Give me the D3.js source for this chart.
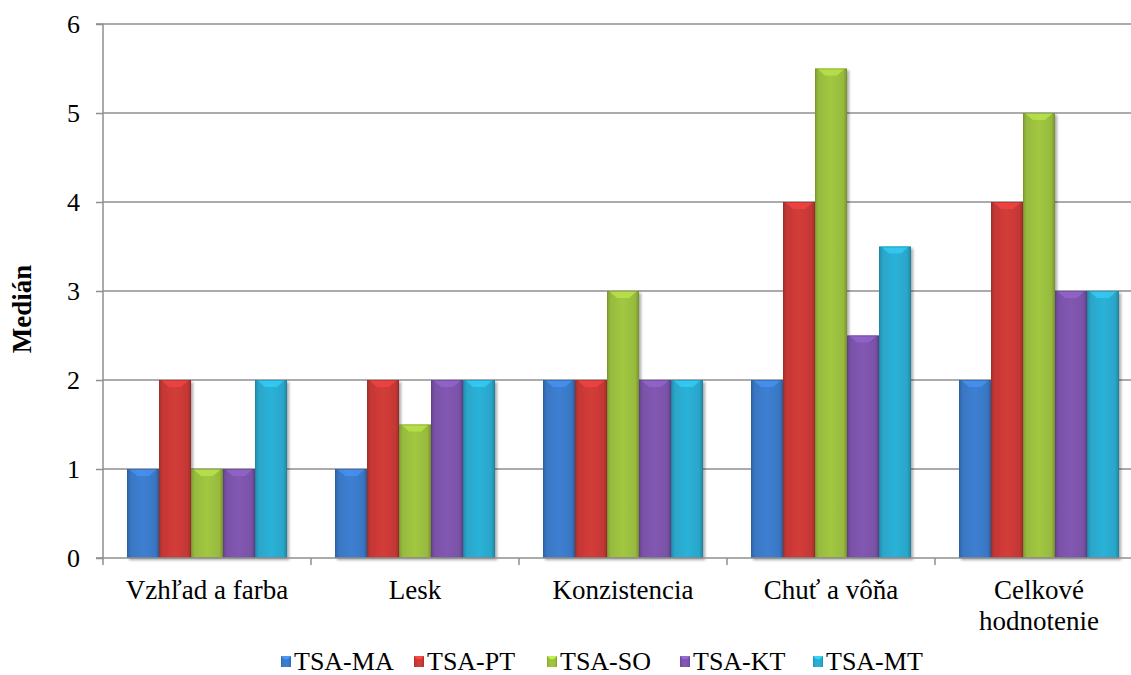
<!DOCTYPE html>
<html>
<head>
<meta charset="utf-8">
<script src="https://cdn.jsdelivr.net/npm/d3@7"></script>
<style>
  html, body { margin: 0; padding: 0; background: #fff; overflow: hidden; }
  svg { display: block; }
</style>
</head>
<body>
<svg id="chart" width="1131" height="675"></svg>
<script>
// Hodnotené znaky (kategórie osi X)
const categories = ["Vzhľad a farba", "Lesk", "Konzistencia", "Chuť a vôňa", "Celkové hodnotenie"];
// Vzorky (série)
const seriesNames = ["TSA-MA", "TSA-PT", "TSA-SO", "TSA-KT", "TSA-MT"];
// Mediány pre každú vzorku v poradí kategórií
const valMA = [1, 1, 2, 2, 2];
const valPT = [2, 2, 2, 4, 4];
const valSO = [1, 1.5, 3, 5.5, 5];
const valKT = [1, 2, 2, 2.5, 3];
const valMT = [2, 2, 2, 3.5, 3];
const yTicks = [0, 1, 2, 3, 4, 5, 6];
const seriesColors = ["#3b7bcb", "#cc3a37", "#9cc13f", "#7d55ad", "#2aacd0"];

const seriesValues = [valMA, valPT, valSO, valKT, valMT];
const FONT = '"Liberation Serif"';

const svg = d3.select("#chart");
const plotLeft = 103, plotTop = 24, plotBottom = 558;
const plotRight = plotLeft + 208 * categories.length;

const x0 = d3.scaleBand().domain(categories).range([plotLeft, plotRight]).paddingInner(0).paddingOuter(0);
const x1 = d3.scaleBand().domain(seriesNames).range([24, 208 - 24]).padding(0);
const y = d3.scaleLinear().domain([0, 6]).range([plotBottom, plotTop]);

const defs = svg.append("defs");
const shadow = defs.append("filter").attr("id", "shadow")
  .attr("x", "-20%").attr("y", "-5%").attr("width", "150%").attr("height", "115%");
shadow.append("feGaussianBlur").attr("in", "SourceAlpha").attr("stdDeviation", 1.6);
shadow.append("feOffset").attr("dx", 1.5).attr("dy", 1.5).attr("result", "off");
shadow.append("feComponentTransfer").append("feFuncA").attr("type", "linear").attr("slope", 0.35);
const merge = shadow.append("feMerge");
merge.append("feMergeNode");
merge.append("feMergeNode").attr("in", "SourceGraphic");

seriesColors.forEach((c, i) => {
  const base = d3.color(c);
  const g = defs.append("linearGradient").attr("id", "grad" + i)
    .attr("x1", "0").attr("x2", "1").attr("y1", "0").attr("y2", "0");
  g.append("stop").attr("offset", "0").attr("stop-color", base.darker(0.6));
  g.append("stop").attr("offset", "0.12").attr("stop-color", base.darker(0.1));
  g.append("stop").attr("offset", "0.5").attr("stop-color", base.brighter(0.1));
  g.append("stop").attr("offset", "0.88").attr("stop-color", base.darker(0.1));
  g.append("stop").attr("offset", "1").attr("stop-color", base.darker(0.7));
});

// Mriežka
svg.append("g").selectAll("line").data(yTicks.filter(t => t > 0)).join("line")
  .attr("x1", plotLeft).attr("x2", plotRight)
  .attr("y1", d => y(d)).attr("y2", d => y(d))
  .attr("stroke", "#8f8f8f").attr("stroke-width", 1.5);

// Stĺpce
const groups = svg.append("g").selectAll("g").data(categories).join("g")
  .attr("transform", d => `translate(${x0(d)},0)`);

groups.each(function (cat, ci) {
  const g = d3.select(this);
  seriesNames.forEach((s, si) => {
    const v = seriesValues[si][ci];
    const bx = x1(s), bw = x1.bandwidth();
    const by = y(v), bh = y(0) - y(v);
    const base = d3.color(seriesColors[si]);
    const bar = g.append("g").attr("filter", "url(#shadow)");
    bar.append("rect").attr("x", bx).attr("y", by).attr("width", bw).attr("height", bh)
      .attr("fill", `url(#grad${si})`);
    const b = 7;
    bar.append("path")
      .attr("d", `M${bx + 2},${by} L${bx + bw - 2},${by} L${bx + bw - b - 3},${by + b} L${bx + b + 3},${by + b} Z`)
      .attr("fill", base.brighter(0.45)).attr("opacity", 0.85);
    bar.append("rect").attr("x", bx + 0.5).attr("y", by + 0.5).attr("width", bw - 1).attr("height", bh - 1)
      .attr("fill", "none").attr("stroke", base.darker(0.9)).attr("stroke-width", 1).attr("opacity", 0.45);
  });
});

// Os Y
const yAxis = svg.append("g").attr("transform", `translate(${plotLeft},0)`)
  .call(d3.axisLeft(y).tickValues(yTicks).tickFormat(d3.format("d")).tickSize(7).tickPadding(16));
yAxis.select(".domain").attr("stroke", "#8f8f8f").attr("stroke-width", 1.5)
  .attr("d", `M-7,${plotTop}H0V${plotBottom}H-7`);
yAxis.selectAll(".tick line").attr("stroke", "#8f8f8f").attr("stroke-width", 1.5);
yAxis.selectAll(".tick text").style("font-family", FONT)
  .style("font-size", "26px").attr("fill", "#000").attr("dy", "0.34em");

// Os X
const xAxis = svg.append("g").attr("transform", `translate(0,${plotBottom})`)
  .call(d3.axisBottom(x0).tickSize(0).tickFormat(""));
xAxis.select(".domain").attr("stroke", "#8f8f8f").attr("stroke-width", 1.5)
  .attr("d", `M${plotLeft},0H${plotRight}`);
xAxis.selectAll(".tick").remove();
svg.append("g").selectAll("line").data(d3.range(categories.length + 1)).join("line")
  .attr("x1", i => plotLeft + i * x0.step()).attr("x2", i => plotLeft + i * x0.step())
  .attr("y1", plotBottom).attr("y2", plotBottom + 7)
  .attr("stroke", "#8f8f8f").attr("stroke-width", 1.5);

// Popisy kategórií
const catLabels = { "Celkové hodnotenie": ["Celkové", "hodnotenie"] };
svg.append("g").selectAll("text").data(categories).join("text")
  .attr("x", d => x0(d) + x0.bandwidth() / 2)
  .attr("y", 599)
  .attr("text-anchor", "middle")
  .style("font-family", FONT).style("font-size", "27px").attr("fill", "#000")
  .each(function (d) {
    const lines = catLabels[d] || [d];
    d3.select(this).selectAll("tspan").data(lines).join("tspan")
      .attr("x", x0(d) + x0.bandwidth() / 2)
      .attr("dy", (l, i) => i === 0 ? 0 : 31)
      .text(l => l);
  });

// Názov osi Y
svg.append("text")
  .attr("transform", `translate(31,${(plotTop + plotBottom) / 2 + 18}) rotate(-90)`)
  .attr("text-anchor", "middle")
  .style("font-family", FONT).style("font-size", "27px").style("font-weight", "bold")
  .text("Medián");

// Legenda
const legend = svg.append("g").selectAll("g").data(seriesNames).join("g")
  .attr("transform", (d, i) => `translate(${281 + 133 * i},656)`);
legend.append("rect").attr("x", 0).attr("y", 0).attr("width", 10).attr("height", 11)
  .attr("fill", (d, i) => `url(#grad${i})`);
legend.append("path").attr("d", "M0,0 L10,0 L7,3 L3,3 Z")
  .attr("fill", (d, i) => d3.color(seriesColors[i]).brighter(0.6));
legend.append("text").attr("x", 13).attr("y", 14)
  .style("font-family", FONT).style("font-size", "26px").attr("fill", "#000")
  .text(d => d);
</script>
</body>
</html>
